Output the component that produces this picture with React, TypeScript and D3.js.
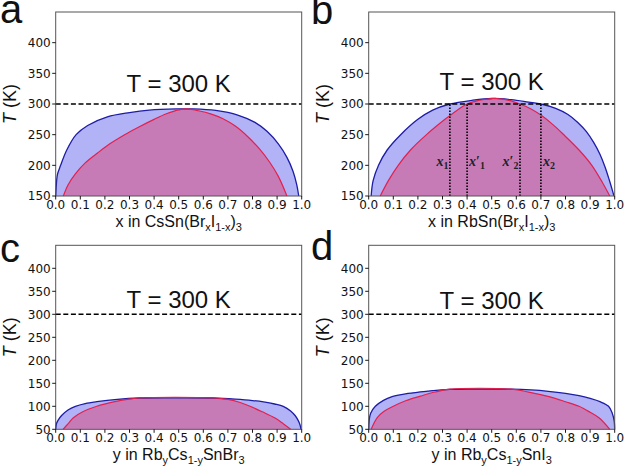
import React from 'react';
import * as d3 from 'd3';

// ---------- data ----------
const xTicks = [0, 0.1, 0.2, 0.3, 0.4, 0.5, 0.6, 0.7, 0.8, 0.9, 1.0];
const yTicksTop = [150, 200, 250, 300, 350, 400];
const yTicksBottom = [50, 100, 150, 200, 250, 300, 350, 400];
const refT = 300;

// panel a: CsSn(BrxI1-x)3
const aBinX = [0.0, 0.002, 0.007, 0.02, 0.045, 0.083, 0.13, 0.21, 0.3, 0.38, 0.49, 0.56, 0.65, 0.74, 0.81, 0.86, 0.905, 0.94, 0.965, 0.98, 0.988];
const aBinT = [150, 165, 185, 200, 225, 250, 265, 279, 286, 290, 292, 292, 289.5, 282, 270, 255, 235, 213, 190, 168, 150];
const aSpiX = [0.031, 0.05, 0.08, 0.12, 0.17, 0.22, 0.28, 0.34, 0.4, 0.45, 0.5, 0.535, 0.58, 0.63, 0.68, 0.73, 0.78, 0.83, 0.87, 0.905, 0.94];
const aSpiT = [150, 168, 186, 204, 220, 235, 250, 263, 275, 284, 290.5, 292, 289, 284, 276, 264, 247, 226, 205, 182, 150];

// panel b: RbSn(BrxI1-x)3
const bBinX = [0.01, 0.018, 0.04, 0.075, 0.13, 0.2, 0.26, 0.33, 0.42, 0.5, 0.58, 0.65, 0.7, 0.76, 0.81, 0.85, 0.885, 0.915, 0.94, 0.96, 0.978, 0.99, 0.997];
const bBinT = [150, 175, 200, 225, 250, 275, 290, 300, 306, 309, 307, 303, 300, 293, 283, 270, 255, 237, 218, 198, 176, 160, 150];
const bSpiX = [0.047, 0.08, 0.12, 0.17, 0.235, 0.31, 0.36, 0.4, 0.43, 0.47, 0.52, 0.57, 0.615, 0.66, 0.7, 0.75, 0.79, 0.855, 0.907, 0.95, 0.98];
const bSpiT = [150, 175, 200, 225, 250, 275, 290, 300, 304, 307.3, 309, 306, 300, 292, 282, 266, 251, 225, 200, 172, 150];
const bMarkX = [0.33, 0.4, 0.615, 0.7];

// panel c: RbyCs1-ySnBr3
const cBinX = [0.0, 0.003, 0.01, 0.024, 0.05, 0.08, 0.12, 0.167, 0.25, 0.34, 0.5, 0.64, 0.73, 0.8, 0.845, 0.89, 0.925, 0.955, 0.973, 0.985, 0.993, 0.997];
const cBinT = [50, 62, 70, 80, 92, 100, 106, 110, 115, 118, 118.5, 118, 115.5, 112.5, 109.5, 105, 100, 90, 80, 70, 60, 50];
const cSpiX = [0.03, 0.05, 0.072, 0.11, 0.167, 0.24, 0.29, 0.34, 0.64, 0.7, 0.74, 0.79, 0.84, 0.89, 0.925, 0.955];
const cSpiT = [50, 62, 75, 88, 100, 110, 115, 118, 118, 115, 110, 100, 88, 75, 62, 50];

// panel d: RbyCs1-ySnI3
const dBinX = [0.0, 0.002, 0.008, 0.027, 0.06, 0.095, 0.16, 0.24, 0.33, 0.45, 0.58, 0.66, 0.73, 0.8, 0.855, 0.9, 0.94, 0.975, 0.99, 0.998, 1.0];
const dBinT = [50, 70, 85, 100, 113, 121, 128, 133, 137, 137.5, 137.3, 135.5, 132.5, 128, 123, 117, 110, 100, 85, 68, 50];
const dSpiX = [0.01, 0.034, 0.06, 0.1, 0.15, 0.21, 0.27, 0.33, 0.58, 0.65, 0.733, 0.8, 0.855, 0.9, 0.936, 0.98];
const dSpiT = [50, 75, 88, 100, 112, 122, 131, 137.2, 137.2, 131, 121, 110, 100, 87, 75, 50];

// ---------- layout ----------
const W = 246;
const H = 184;
const BLUE_FILL = '#b2b2f7';
const BLUE_LINE = '#1c1ca6';
const PURPLE_FILL = '#c77bb6';
const RED_LINE = '#e3204e';
const LABEL_FONT = '"Liberation Sans", Arial, sans-serif';
const TICK_FONT = '"DejaVu Sans", sans-serif';

type Seg = [string, boolean];

const zip = (xs: number[], ts: number[]) => xs.map((v, i) => [v, ts[i]] as [number, number]);

function XLabel({ parts, x, y }: { parts: Seg[]; x: number; y: number }) {
  const nodes: React.ReactNode[] = [];
  let sub = false;
  parts.forEach(([s, isSub], i) => {
    let dy = 0;
    if (isSub && !sub) dy = 4;
    if (!isSub && sub) dy = -4;
    sub = isSub;
    nodes.push(
      <tspan key={i} dy={dy} fontSize={isSub ? 11 : 16}>
        {s}
      </tspan>
    );
  });
  return (
    <text x={x} y={y} textAnchor="middle" fontFamily={LABEL_FONT} fontSize={16} fill="#111">
      {nodes}
    </text>
  );
}

interface PanelProps {
  left: number;
  top: number;
  yDomain: [number, number];
  yTicks: number[];
  bin: [number, number][];
  spi: [number, number][];
  letter: string;
  letterX: number;
  letterY: number;
  xlabel: Seg[];
  titleOffset: number;
  marks?: number[];
}

function Panel(p: PanelProps) {
  const x = d3.scaleLinear().domain([0, 1]).range([p.left, p.left + W]);
  const y = d3.scaleLinear().domain(p.yDomain).range([p.top + H, p.top]);
  const base = y(p.yDomain[0]);
  const curve = d3.curveCatmullRom.alpha(0.5);
  const area = d3
    .area<[number, number]>()
    .x((d) => x(d[0]))
    .y0(base)
    .y1((d) => y(d[1]))
    .curve(curve);
  const line = d3
    .line<[number, number]>()
    .x((d) => x(d[0]))
    .y((d) => y(d[1]))
    .curve(curve);
  const cx = p.left + W / 2;
  const markLabels: { t: string; pr: boolean; anchor: 'start' | 'end'; dx: number }[] = [
    { t: '1', pr: false, anchor: 'end', dx: -1.5 },
    { t: '1', pr: true, anchor: 'start', dx: 2 },
    { t: '2', pr: true, anchor: 'end', dx: -1.5 },
    { t: '2', pr: false, anchor: 'start', dx: 2 },
  ];
  return (
    <g>
      <path d={area(p.bin) || ''} fill={BLUE_FILL} />
      <path d={area(p.spi) || ''} fill={PURPLE_FILL} />
      <path d={line(p.bin) || ''} fill="none" stroke={BLUE_LINE} strokeWidth={1.3} />
      <path d={line(p.spi) || ''} fill="none" stroke={RED_LINE} strokeWidth={1.2} />
      {p.marks &&
        p.marks.map((m, i) => (
          <g key={i}>
            <line x1={x(m)} x2={x(m)} y1={base} y2={y(refT)} stroke="#000" strokeWidth={1.6} strokeDasharray="1.5,1.5" />
            <text
              x={x(m) + markLabels[i].dx}
              y={y(200) + 1}
              textAnchor={markLabels[i].anchor}
              fontFamily='"Liberation Serif", "Times New Roman", serif'
              fontStyle="italic"
              fontWeight="bold"
              fontSize={14}
              fill="#222"
            >
              x
              {markLabels[i].pr && <tspan fontStyle="normal">′</tspan>}
              <tspan dy={3} fontSize={10} fontStyle="normal">
                {markLabels[i].t}
              </tspan>
            </text>
          </g>
        ))}
      <line x1={p.left} x2={p.left + W} y1={y(refT)} y2={y(refT)} stroke="#000" strokeWidth={1.5} strokeDasharray="5,2.6" />
      <rect x={p.left} y={p.top} width={W} height={H} fill="none" stroke="#555" strokeWidth={1} />
      {xTicks.map((t) => (
        <g key={'x' + t}>
          <line x1={x(t)} x2={x(t)} y1={base} y2={base + 3.5} stroke="#000" strokeWidth={0.9} />
          <text x={x(t)} y={base + 12.5} textAnchor="middle" fontFamily={TICK_FONT} fontSize={12} fill="#111">
            {t.toFixed(1)}
          </text>
        </g>
      ))}
      {p.yTicks.map((t) => (
        <g key={'y' + t}>
          <line x1={p.left - 3.5} x2={p.left} y1={y(t)} y2={y(t)} stroke="#000" strokeWidth={0.9} />
          <text x={p.left - 5} y={y(t)} dy="0.36em" textAnchor="end" fontFamily={TICK_FONT} fontSize={12} fill="#111">
            {t}
          </text>
        </g>
      ))}
      <text x={cx} y={y(refT) - p.titleOffset} textAnchor="middle" fontFamily={LABEL_FONT} fontSize={24} fill="#111">
        T = 300 K
      </text>
      <text
        transform={`translate(${p.left - 40},${p.top + H / 2}) rotate(-90)`}
        textAnchor="middle"
        fontFamily={LABEL_FONT}
        fontSize={18}
        fill="#111"
      >
        <tspan fontStyle="italic">T</tspan> (K)
      </text>
      <XLabel parts={p.xlabel} x={cx} y={base + 31} />
      <text x={p.letterX} y={p.letterY} fontFamily={LABEL_FONT} fontSize={40} fill="#111">
        {p.letter}
      </text>
    </g>
  );
}

export default function App() {
  return (
    <svg
      width={625}
      height={470}
      viewBox="0 0 625 470"
      style={{ position: 'absolute', left: 0, top: 0, background: '#fff' }}
    >
      <rect width={625} height={470} fill="#fff" />
      <Panel
        left={55.7}
        top={12}
        yDomain={[150, 450]}
        yTicks={yTicksTop}
        bin={zip(aBinX, aBinT)}
        spi={zip(aSpiX, aSpiT)}
        letter="a"
        letterX={0}
        letterY={23}
        xlabel={[
          ['x in CsSn(Br', false],
          ['x', true],
          ['I', false],
          ['1-x', true],
          [')', false],
          ['3', true],
        ]}
        titleOffset={12}
      />
      <Panel
        left={368.7}
        top={12}
        yDomain={[150, 450]}
        yTicks={yTicksTop}
        bin={zip(bBinX, bBinT)}
        spi={zip(bSpiX, bSpiT)}
        letter="b"
        letterX={311}
        letterY={24}
        xlabel={[
          ['x in RbSn(Br', false],
          ['x', true],
          ['I', false],
          ['1-x', true],
          [')', false],
          ['3', true],
        ]}
        titleOffset={14}
        marks={bMarkX}
      />
      <Panel
        left={55.7}
        top={245.3}
        yDomain={[50, 450]}
        yTicks={yTicksBottom}
        bin={zip(cBinX, cBinT)}
        spi={zip(cSpiX, cSpiT)}
        letter="c"
        letterX={0}
        letterY={262}
        xlabel={[
          ['y in Rb', false],
          ['y', true],
          ['Cs', false],
          ['1-y', true],
          ['SnBr', false],
          ['3', true],
        ]}
        titleOffset={6}
      />
      <Panel
        left={368.7}
        top={245.3}
        yDomain={[50, 450]}
        yTicks={yTicksBottom}
        bin={zip(dBinX, dBinT)}
        spi={zip(dSpiX, dSpiT)}
        letter="d"
        letterX={311}
        letterY={260}
        xlabel={[
          ['y in Rb', false],
          ['y', true],
          ['Cs', false],
          ['1-y', true],
          ['SnI', false],
          ['3', true],
        ]}
        titleOffset={5.5}
      />
    </svg>
  );
}
